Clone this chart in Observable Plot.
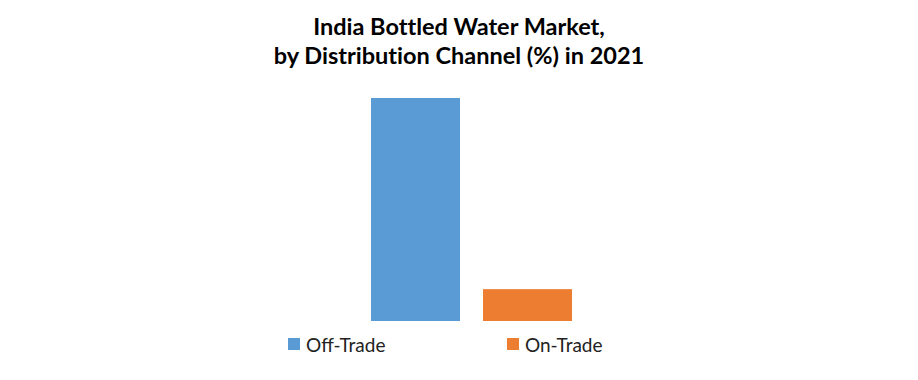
<!DOCTYPE html>
<html>
<head>
<meta charset="utf-8">
<script src="https://cdn.jsdelivr.net/npm/d3@7"></script>
<script src="https://cdn.jsdelivr.net/npm/@observablehq/plot@0.6"></script>
<style>
  html, body { margin: 0; padding: 0; background: #fff; }
  #wrap { position: relative; width: 918px; height: 380px; overflow: hidden; }
  #title { position: absolute; left: 0; top: 12px; width: 918px; text-align: center;
    font-family: Lato, "Open Sans", sans-serif; font-weight: 700; font-size: 23.5px; line-height: 29px; color: #000;
    font-variant-ligatures: none; font-feature-settings: "liga" 0; }
  #legend { position: absolute; top: 332px; left: 0; width: 918px; height: 24px;
    font-family: Lato, "Open Sans", sans-serif; font-size: 19px; color: #222; }
  .item { position: absolute; top: 0; display: flex; align-items: center; height: 24px; }
  .sw { width: 12px; height: 12px; margin-right: 6px; }
  #chart { position: absolute; left: 0; top: 0; }
</style>
</head>
<body>
<div id="wrap">
  <div id="chart"></div>
  <div id="title">India Bottled Water Market,<br>by Distribution Channel (%) in 2021</div>
  <div id="legend"></div>
</div>
<script>
const categories = ["Off-Trade", "On-Trade"];
const shares = [87.5, 12.5];
const colors = ["#5B9BD5", "#ED7D31"];
const legendLeft = [288, 507];

const data = categories.map((c, i) => ({channel: c, value: shares[i]}));

const chart = Plot.plot({
  width: 918,
  height: 380,
  margin: 0,
  x: {domain: categories, range: [371, 572], paddingInner: 0.2054, paddingOuter: 0, axis: null},
  y: {domain: [0, 87.5], range: [321, 98], axis: null},
  color: {domain: categories, range: colors},
  marks: [
    Plot.barY(data, {x: "channel", y: "value", fill: "channel"})
  ]
});
document.getElementById("chart").appendChild(chart);

const legend = document.getElementById("legend");
categories.forEach((c, i) => {
  const item = document.createElement("div");
  item.className = "item";
  item.style.left = legendLeft[i] + "px";
  const sw = document.createElement("span");
  sw.className = "sw";
  sw.style.background = colors[i];
  const t = document.createElement("span");
  t.textContent = c;
  item.appendChild(sw);
  item.appendChild(t);
  legend.appendChild(item);
});
</script>
</body>
</html>
